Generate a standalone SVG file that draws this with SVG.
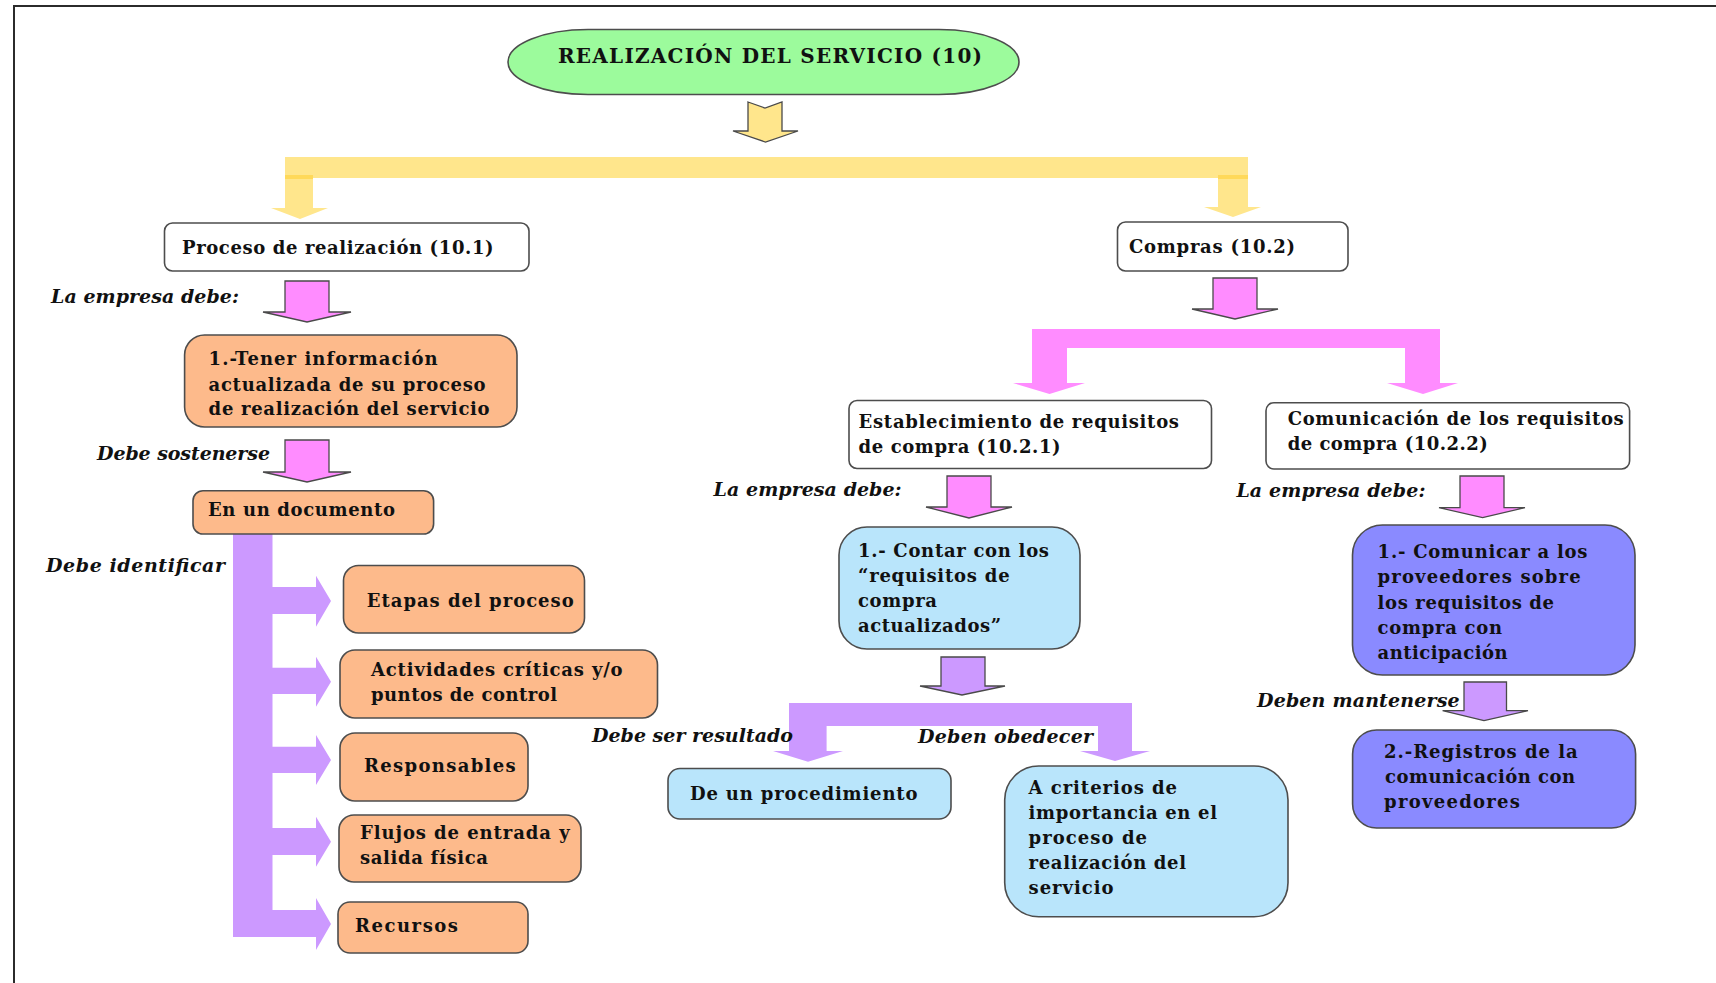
<svg xmlns="http://www.w3.org/2000/svg" width="1716" height="983" viewBox="0 0 1716 983">
  <style>
    .frame { fill: none; stroke: #2b2b2b; stroke-width: 2; }
    .box { stroke: #4d4d4d; stroke-width: 1.6; }
    .white { fill: #ffffff; }
    .green { fill: #9cfb9c; }
    .peach { fill: #fdba8b; }
    .sky { fill: #b9e5fb; }
    .violet { fill: #8a8aff; }
    .t { font-family: "DejaVu Serif", "Liberation Serif", serif; font-weight: bold; font-size: 18px; fill: #111; }
    .title { font-size: 20px; }
    .lbl { font-family: "DejaVu Serif", "Liberation Serif", serif; font-style: italic; font-weight: bold; font-size: 19px; fill: #111; }
    .yel { fill: #ffe68c; }
    .yelDark { fill: #ffd95a; }
    .pink { fill: #ff8cff; }
    .purp { fill: #cc99ff; }
    .edge { stroke: #4a4a4a; stroke-width: 1.3; stroke-linejoin: miter; }
  </style>

  <!-- page frame -->
  <path class="frame" d="M14 983 L14 6 L1716 6"/>

  <!-- connectors -->
  <g id="connectors">
    <!-- top notched arrow -->
    <path class="yel edge" d="M748 102 L765 108 L782 102 L782 131 L798 131 L765.5 142 L733 131 L748 131 Z"/>
    <!-- yellow bracket -->
    <rect class="yel" x="285" y="157" width="963" height="21"/>
    <path class="yel" d="M285 175 L313 175 L313 208 L328 208 L300 219 L271 208 L285 208 Z"/>
    <path class="yel" d="M1218 175 L1248 175 L1248 207 L1261 207 L1233 217 L1204 207 L1218 207 Z"/>
    <rect class="yelDark" x="285" y="175" width="28" height="4"/>
    <rect class="yelDark" x="1218" y="175" width="30" height="4"/>

    <!-- left column -->
    <path class="pink edge" d="M285 281 L329 281 L329 312 L351 312 L307 322 L263 312 L285 312 Z"/>
    <path class="pink edge" d="M285 440 L329 440 L329 472 L351 472 L307 482 L263 472 L285 472 Z"/>
    <rect class="purp" x="233" y="534" width="39.5" height="403"/>
    <path class="purp" d="M272 587 L316 587 L316 575.7 L331 601 L316 626.7 L316 614 L272 614 Z"/>
    <path class="purp" d="M272 667.7 L316 667.7 L316 656.7 L331 681.7 L316 706.7 L316 694 L272 694 Z"/>
    <path class="purp" d="M272 746.7 L316 746.7 L316 735 L331 760 L316 785 L316 773 L272 773 Z"/>
    <path class="purp" d="M272 828 L316 828 L316 816.7 L331 841.7 L316 866.7 L316 855 L272 855 Z"/>
    <path class="purp" d="M272 910 L316 910 L316 898 L331 924 L316 950 L316 937 L272 937 Z"/>

    <!-- compras branch -->
    <path class="pink edge" d="M1213 278 L1257 278 L1257 309 L1278 309 L1235 319 L1192 309 L1213 309 Z"/>
    <path class="pink" d="M1032 329 L1440 329 L1440 383 L1458 383 L1423 394 L1387 383 L1405 383 L1405 348 L1067 348 L1067 383 L1085 383 L1049.5 394 L1013 383 L1032 383 Z"/>

    <!-- middle column -->
    <path class="pink edge" d="M947 476 L991 476 L991 507 L1012 507 L969 518 L926 507 L947 507 Z"/>
    <path class="purp edge" d="M941 657 L985 657 L985 686 L1005 686 L962 695 L920 686 L941 686 Z"/>
    <path class="purp" d="M789 703 L1132 703 L1132 751 L1150 751 L1115 761 L1080 751 L1098 751 L1098 726 L826.6 726 L826.6 751 L843 751 L808 761.7 L773 751 L789 751 Z"/>

    <!-- right column -->
    <path class="pink edge" d="M1460 476 L1504 476 L1504 507.7 L1525 507.7 L1482.6 517.7 L1439 507.7 L1460 507.7 Z"/>
    <path class="purp edge" d="M1464 682 L1506.5 682 L1506.5 710.7 L1528 710.7 L1484 720.7 L1442.6 710.7 L1464 710.7 Z"/>
  </g>

  <!-- edge labels -->
  <g id="labels">
    <text class="lbl" x="51" y="303" textLength="188" lengthAdjust="spacing">La empresa debe:</text>
    <text class="lbl" x="97" y="460" textLength="173" lengthAdjust="spacing">Debe sostenerse</text>
    <text class="lbl" x="46" y="571.5" textLength="179" lengthAdjust="spacing">Debe identificar</text>
    <text class="lbl" x="713.6" y="496" textLength="188" lengthAdjust="spacing">La empresa debe:</text>
    <text class="lbl" x="592" y="742" textLength="201" lengthAdjust="spacing">Debe ser resultado</text>
    <text class="lbl" x="918" y="743" textLength="175" lengthAdjust="spacing">Deben obedecer</text>
    <text class="lbl" x="1236.4" y="497" textLength="189" lengthAdjust="spacing">La empresa debe:</text>
    <text class="lbl" x="1257" y="706.7" textLength="202.7" lengthAdjust="spacing">Deben mantenerse</text>
  </g>

  <!-- root -->
  <g id="node-realizacion">
    <rect class="box green" x="508" y="29.5" width="511" height="65" rx="80" ry="32.5"/>
    <text class="t title" x="558" y="63.3" textLength="424" lengthAdjust="spacing">REALIZACIÓN DEL SERVICIO (10)</text>
  </g>

  <!-- left branch -->
  <g id="node-proceso">
    <rect class="box white" x="164.5" y="223" width="364.5" height="48" rx="8"/>
    <text class="t" x="182" y="254" textLength="311.6" lengthAdjust="spacing">Proceso de realización (10.1)</text>
  </g>
  <g id="node-tener-info">
    <rect class="box peach" x="184.6" y="335" width="332.4" height="92" rx="20"/>
    <text class="t" x="208.6" y="365" textLength="229" lengthAdjust="spacing">1.-Tener información</text>
    <text class="t" x="208.6" y="390.7" textLength="277" lengthAdjust="spacing">actualizada de su proceso</text>
    <text class="t" x="208.6" y="415" textLength="281" lengthAdjust="spacing">de realización del servicio</text>
  </g>
  <g id="node-documento">
    <rect class="box peach" x="193" y="490.7" width="240.6" height="43.3" rx="10"/>
    <text class="t" x="208" y="516" textLength="187" lengthAdjust="spacing">En un documento</text>
  </g>
  <g id="node-etapas">
    <rect class="box peach" x="343.5" y="565.5" width="241" height="67.5" rx="15"/>
    <text class="t" x="366.7" y="607" textLength="207" lengthAdjust="spacing">Etapas del proceso</text>
  </g>
  <g id="node-actividades">
    <rect class="box peach" x="340" y="650" width="317.5" height="68" rx="15"/>
    <text class="t" x="371" y="676" textLength="251.6" lengthAdjust="spacing">Actividades críticas y/o</text>
    <text class="t" x="371" y="700.7" textLength="186" lengthAdjust="spacing">puntos de control</text>
  </g>
  <g id="node-responsables">
    <rect class="box peach" x="340" y="733" width="188" height="68" rx="15"/>
    <text class="t" x="364" y="771.7" textLength="151.7" lengthAdjust="spacing">Responsables</text>
  </g>
  <g id="node-flujos">
    <rect class="box peach" x="339" y="815" width="242" height="67" rx="15"/>
    <text class="t" x="360" y="839" textLength="209.6" lengthAdjust="spacing">Flujos de entrada y</text>
    <text class="t" x="360" y="864" textLength="128" lengthAdjust="spacing">salida física</text>
  </g>
  <g id="node-recursos">
    <rect class="box peach" x="338" y="902" width="190" height="51" rx="12"/>
    <text class="t" x="355" y="931.7" textLength="103" lengthAdjust="spacing">Recursos</text>
  </g>

  <!-- right branch -->
  <g id="node-compras">
    <rect class="box white" x="1117.5" y="222" width="230.5" height="49" rx="8"/>
    <text class="t" x="1129" y="252.7" textLength="166" lengthAdjust="spacing">Compras (10.2)</text>
  </g>
  <g id="node-establecimiento">
    <rect class="box white" x="849" y="400.5" width="362.5" height="68" rx="8"/>
    <text class="t" x="858.6" y="428" textLength="320.4" lengthAdjust="spacing">Establecimiento de requisitos</text>
    <text class="t" x="858.6" y="453" textLength="202" lengthAdjust="spacing">de compra (10.2.1)</text>
  </g>
  <g id="node-contar">
    <rect class="box sky" x="839" y="527" width="241" height="122" rx="28"/>
    <text class="t" x="858" y="556.7" textLength="191" lengthAdjust="spacing">1.- Contar con los</text>
    <text class="t" x="858" y="581.7" textLength="151.6" lengthAdjust="spacing">“requisitos de</text>
    <text class="t" x="858" y="607" textLength="79" lengthAdjust="spacing">compra</text>
    <text class="t" x="858" y="632" textLength="143" lengthAdjust="spacing">actualizados”</text>
  </g>
  <g id="node-procedimiento">
    <rect class="box sky" x="668" y="768.5" width="283" height="50.5" rx="12"/>
    <text class="t" x="690" y="800" textLength="227.5" lengthAdjust="spacing">De un procedimiento</text>
  </g>
  <g id="node-criterios">
    <rect class="box sky" x="1004.7" y="766" width="283.3" height="150.7" rx="34"/>
    <text class="t" x="1028.6" y="794" textLength="148.4" lengthAdjust="spacing">A criterios de</text>
    <text class="t" x="1028.6" y="819.3" textLength="188.4" lengthAdjust="spacing">importancia en el</text>
    <text class="t" x="1028.6" y="844" textLength="118.4" lengthAdjust="spacing">proceso de</text>
    <text class="t" x="1028.6" y="869.3" textLength="157.4" lengthAdjust="spacing">realización del</text>
    <text class="t" x="1028.6" y="894.3" textLength="84.9" lengthAdjust="spacing">servicio</text>
  </g>
  <g id="node-comunicacion">
    <rect class="box white" x="1266" y="402.7" width="363.6" height="66.3" rx="8"/>
    <text class="t" x="1287.7" y="425" textLength="336" lengthAdjust="spacing">Comunicación de los requisitos</text>
    <text class="t" x="1287.7" y="450" textLength="200" lengthAdjust="spacing">de compra (10.2.2)</text>
  </g>
  <g id="node-comunicar">
    <rect class="box violet" x="1352.5" y="525" width="282.5" height="150" rx="30"/>
    <text class="t" x="1377.6" y="557.7" textLength="209.9" lengthAdjust="spacing">1.- Comunicar a los</text>
    <text class="t" x="1377.6" y="583.3" textLength="203" lengthAdjust="spacing">proveedores sobre</text>
    <text class="t" x="1377.6" y="609" textLength="176.4" lengthAdjust="spacing">los requisitos de</text>
    <text class="t" x="1377.6" y="634" textLength="124.4" lengthAdjust="spacing">compra con</text>
    <text class="t" x="1377.6" y="659.3" textLength="129.9" lengthAdjust="spacing">anticipación</text>
  </g>
  <g id="node-registros">
    <rect class="box violet" x="1352.6" y="730" width="283" height="98" rx="24"/>
    <text class="t" x="1384" y="757.7" textLength="193.6" lengthAdjust="spacing">2.-Registros de la</text>
    <text class="t" x="1385" y="782.7" textLength="190" lengthAdjust="spacing">comunicación con</text>
    <text class="t" x="1384" y="807.7" textLength="136" lengthAdjust="spacing">proveedores</text>
  </g>
</svg>
